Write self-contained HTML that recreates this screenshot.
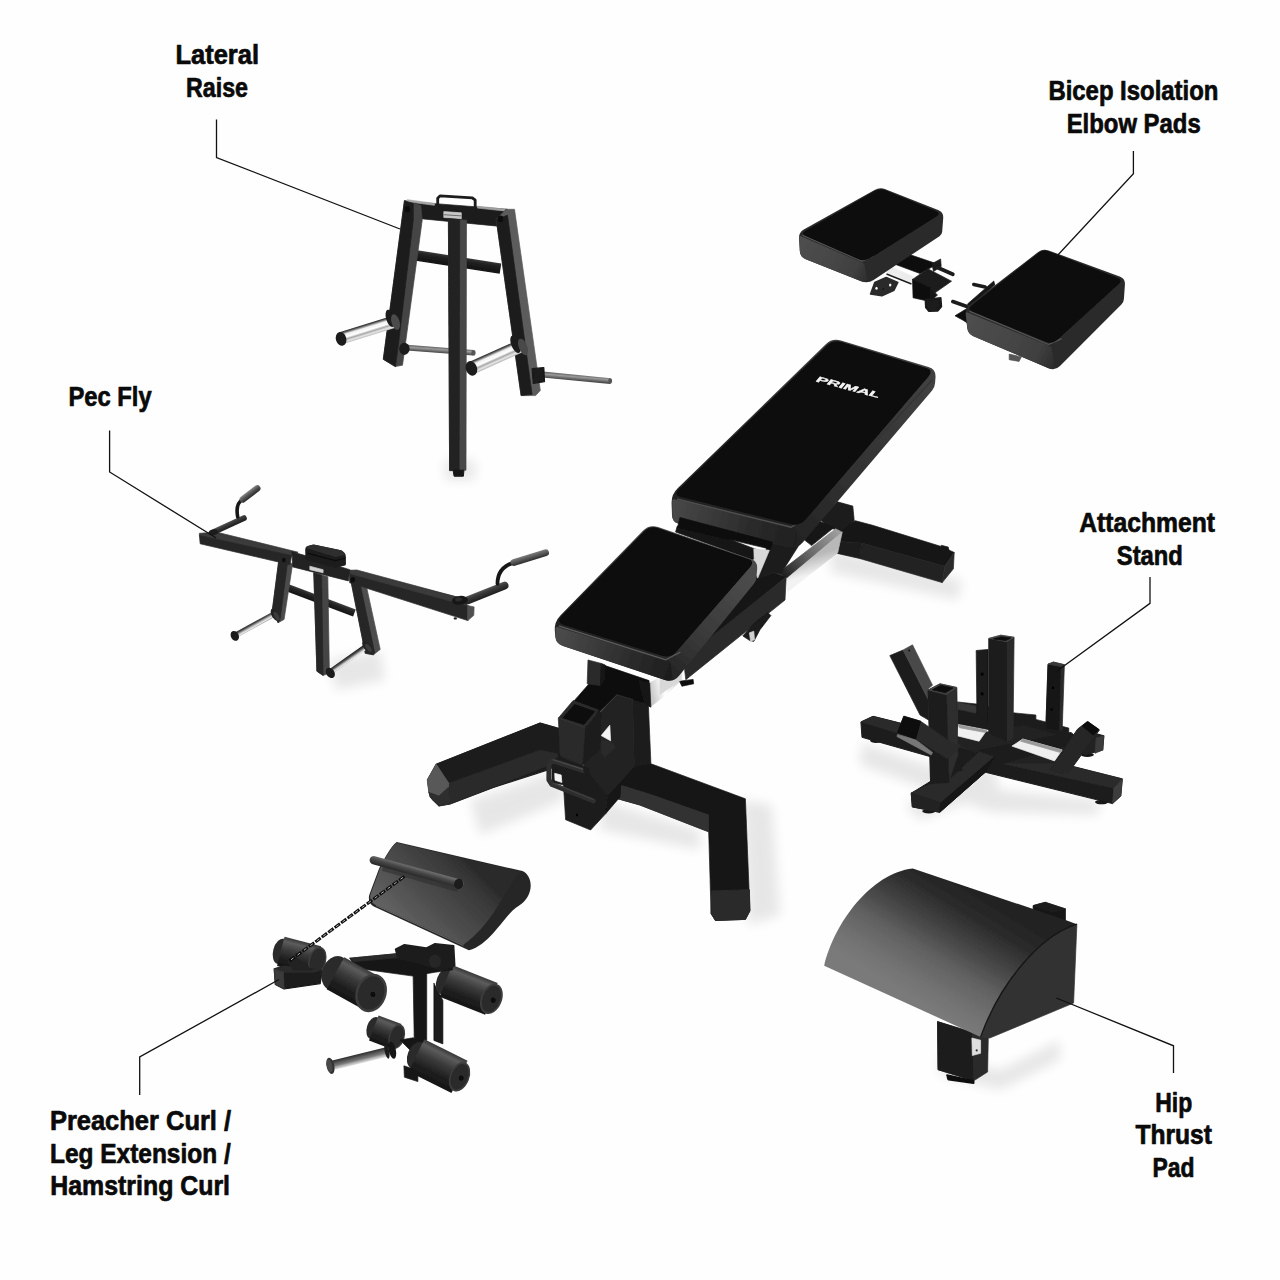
<!DOCTYPE html>
<html><head><meta charset="utf-8"><title>Primal bench attachments</title>
<style>
html,body{margin:0;padding:0;background:#fff;}
svg{display:block;}
.t{font-family:"Liberation Sans",sans-serif;font-weight:bold;font-size:27.5px;fill:#0a0a0a;stroke:#0a0a0a;stroke-width:0.7;stroke-linejoin:round;}
.ln{fill:none;stroke:#111;stroke-width:1.3;stroke-linejoin:miter;}
</style></head>
<body>
<svg width="1280" height="1280" viewBox="0 0 1280 1280">
<defs>
<filter id="shb" x="-30%" y="-30%" width="160%" height="160%"><feGaussianBlur stdDeviation="6"/></filter>
<filter id="soft" x="-2%" y="-2%" width="104%" height="104%"><feGaussianBlur stdDeviation="0.45"/></filter>
<linearGradient id="chr1" gradientUnits="userSpaceOnUse" x1="780.6" y1="574.8" x2="839.1" y2="530.2"><stop offset="0" stop-color="#1c1c1c"/><stop offset="0.5" stop-color="#6a6a6a"/><stop offset="1" stop-color="#a0a0a0"/></linearGradient>
<linearGradient id="chr2" gradientUnits="userSpaceOnUse" x1="811.6" y1="555.9" x2="816.7" y2="573.1"><stop offset="0" stop-color="#b8b8b8"/><stop offset="1" stop-color="#f2f2f2"/></linearGradient>
<linearGradient id="chr3" gradientUnits="userSpaceOnUse" x1="649.7" y1="686.9" x2="676.2" y2="680.6"><stop offset="0" stop-color="#c9c9c9"/><stop offset="0.5" stop-color="#ffffff"/><stop offset="1" stop-color="#dcdcdc"/></linearGradient>
<linearGradient id="bside" gradientUnits="userSpaceOnUse" x1="800.6" y1="540.9" x2="934.2" y2="386.2"><stop offset="0" stop-color="#242424"/><stop offset="0.35" stop-color="#303030"/><stop offset="1" stop-color="#404040"/></linearGradient>
<linearGradient id="bfront" gradientUnits="userSpaceOnUse" x1="672.2" y1="510.5" x2="797.1" y2="540.9"><stop offset="0" stop-color="#484848"/><stop offset="0.6" stop-color="#2c2c2c"/><stop offset="1" stop-color="#1f1f1f"/></linearGradient>
<linearGradient id="sside" gradientUnits="userSpaceOnUse" x1="675.3" y1="680.5" x2="756.2" y2="579.7"><stop offset="0" stop-color="#242424"/><stop offset="0.35" stop-color="#383838"/><stop offset="1" stop-color="#4c4c4c"/></linearGradient>
<linearGradient id="sfront" gradientUnits="userSpaceOnUse" x1="555.3" y1="633.6" x2="670.6" y2="673.4"><stop offset="0" stop-color="#4c4c4c"/><stop offset="0.6" stop-color="#2e2e2e"/><stop offset="1" stop-color="#1e1e1e"/></linearGradient>
<linearGradient id="lgb1" gradientUnits="userSpaceOnUse" x1="406.9" y1="344.8" x2="406.5" y2="350.4"><stop offset="0" stop-color="#5e5e5e"/><stop offset="0.4" stop-color="#9a9a9a"/><stop offset="1" stop-color="#4a4a4a"/></linearGradient>
<linearGradient id="lmb" gradientUnits="userSpaceOnUse" x1="411.0" y1="249.3" x2="409.4" y2="259.7"><stop offset="0" stop-color="#3a3a3a"/><stop offset="0.3" stop-color="#222"/><stop offset="1" stop-color="#111"/></linearGradient>
<linearGradient id="lch1" gradientUnits="userSpaceOnUse" x1="338.8" y1="332.5" x2="342.5" y2="344.4"><stop offset="0" stop-color="#1e1e1e"/><stop offset="0.12" stop-color="#6a6a6a"/><stop offset="0.28" stop-color="#f0f0f0"/><stop offset="0.52" stop-color="#ffffff"/><stop offset="0.68" stop-color="#a8a8a8"/><stop offset="0.84" stop-color="#e6e6e6"/><stop offset="1" stop-color="#b8b8b8"/></linearGradient>
<linearGradient id="lch2" gradientUnits="userSpaceOnUse" x1="468.5" y1="362.3" x2="473.8" y2="374.1"><stop offset="0" stop-color="#1e1e1e"/><stop offset="0.12" stop-color="#6a6a6a"/><stop offset="0.28" stop-color="#f0f0f0"/><stop offset="0.52" stop-color="#ffffff"/><stop offset="0.68" stop-color="#a8a8a8"/><stop offset="0.84" stop-color="#e6e6e6"/><stop offset="1" stop-color="#b8b8b8"/></linearGradient>
<linearGradient id="lgb2" gradientUnits="userSpaceOnUse" x1="542.9" y1="371.6" x2="542.4" y2="377.4"><stop offset="0" stop-color="#5e5e5e"/><stop offset="0.4" stop-color="#9a9a9a"/><stop offset="1" stop-color="#4a4a4a"/></linearGradient>
<linearGradient id="pcb" gradientUnits="userSpaceOnUse" x1="287.0" y1="583.4" x2="284.3" y2="590.4"><stop offset="0" stop-color="#3c3c3c"/><stop offset="0.35" stop-color="#242424"/><stop offset="1" stop-color="#141414"/></linearGradient>
<linearGradient id="pr1" gradientUnits="userSpaceOnUse" x1="233.5" y1="633.2" x2="236.2" y2="638.0"><stop offset="0" stop-color="#242424"/><stop offset="0.3" stop-color="#555"/><stop offset="0.6" stop-color="#bbb"/><stop offset="0.85" stop-color="#ececec"/><stop offset="1" stop-color="#aaa"/></linearGradient>
<linearGradient id="pr2" gradientUnits="userSpaceOnUse" x1="328.6" y1="669.8" x2="331.7" y2="674.3"><stop offset="0" stop-color="#242424"/><stop offset="0.3" stop-color="#555"/><stop offset="0.6" stop-color="#bbb"/><stop offset="0.85" stop-color="#ececec"/><stop offset="1" stop-color="#aaa"/></linearGradient>
<linearGradient id="ph1" gradientUnits="userSpaceOnUse" x1="212.2" y1="529.6" x2="214.7" y2="534.8"><stop offset="0" stop-color="#5a5a5a"/><stop offset="0.35" stop-color="#3a3a3a"/><stop offset="1" stop-color="#202020"/></linearGradient>
<linearGradient id="ph2" gradientUnits="userSpaceOnUse" x1="240.8" y1="496.8" x2="244.8" y2="502.0"><stop offset="0" stop-color="#8a8a8a"/><stop offset="0.4" stop-color="#5a5a5a"/><stop offset="1" stop-color="#2a2a2a"/></linearGradient>
<linearGradient id="ph3" gradientUnits="userSpaceOnUse" x1="466.3" y1="596.4" x2="469.3" y2="603.9"><stop offset="0" stop-color="#5a5a5a"/><stop offset="0.35" stop-color="#3a3a3a"/><stop offset="1" stop-color="#202020"/></linearGradient>
<linearGradient id="ph4" gradientUnits="userSpaceOnUse" x1="512.9" y1="559.2" x2="514.9" y2="565.8"><stop offset="0" stop-color="#7c7c7c"/><stop offset="0.45" stop-color="#585858"/><stop offset="1" stop-color="#2c2c2c"/></linearGradient>
<linearGradient id="bpf1" gradientUnits="userSpaceOnUse" x1="799.7" y1="244.4" x2="867.2" y2="278.1"><stop offset="0" stop-color="#4e4e4e"/><stop offset="0.8" stop-color="#404040"/><stop offset="1" stop-color="#2e2e2e"/></linearGradient>
<linearGradient id="bpf2" gradientUnits="userSpaceOnUse" x1="967.0" y1="317.5" x2="1054.2" y2="362.5"><stop offset="0" stop-color="#4e4e4e"/><stop offset="0.8" stop-color="#404040"/><stop offset="1" stop-color="#2e2e2e"/></linearGradient>
<linearGradient id="hipg" gradientUnits="userSpaceOnUse" x1="963.1" y1="881.6" x2="897.5" y2="988.8"><stop offset="0" stop-color="#222222"/><stop offset="0.2" stop-color="#2b2b2b"/><stop offset="0.42" stop-color="#454545"/><stop offset="0.64" stop-color="#626262"/><stop offset="0.85" stop-color="#727272"/><stop offset="1" stop-color="#7a7a7a"/></linearGradient>
<linearGradient id="rq1" gradientUnits="userSpaceOnUse" x1="452.2" y1="965.1" x2="439.7" y2="996.8"><stop offset="0" stop-color="#383838"/><stop offset="0.14" stop-color="#5c5c5c"/><stop offset="0.4" stop-color="#3a3a3a"/><stop offset="0.72" stop-color="#1f1f1f"/><stop offset="1" stop-color="#151515"/></linearGradient>
<linearGradient id="rq2" gradientUnits="userSpaceOnUse" x1="284.5" y1="936.9" x2="277.0" y2="965.9"><stop offset="0" stop-color="#383838"/><stop offset="0.14" stop-color="#5c5c5c"/><stop offset="0.4" stop-color="#3a3a3a"/><stop offset="0.72" stop-color="#1f1f1f"/><stop offset="1" stop-color="#151515"/></linearGradient>
<linearGradient id="rq3" gradientUnits="userSpaceOnUse" x1="344.3" y1="957.3" x2="326.6" y2="989.3"><stop offset="0" stop-color="#383838"/><stop offset="0.14" stop-color="#5c5c5c"/><stop offset="0.4" stop-color="#3a3a3a"/><stop offset="0.72" stop-color="#1f1f1f"/><stop offset="1" stop-color="#151515"/></linearGradient>
<linearGradient id="rq4" gradientUnits="userSpaceOnUse" x1="378.6" y1="1015.4" x2="368.9" y2="1040.6"><stop offset="0" stop-color="#383838"/><stop offset="0.14" stop-color="#5c5c5c"/><stop offset="0.4" stop-color="#3a3a3a"/><stop offset="0.72" stop-color="#1f1f1f"/><stop offset="1" stop-color="#151515"/></linearGradient>
<linearGradient id="rqrod" gradientUnits="userSpaceOnUse" x1="329.3" y1="1061.2" x2="331.6" y2="1070.4"><stop offset="0" stop-color="#2a2a2a"/><stop offset="0.35" stop-color="#5a5a5a"/><stop offset="0.6" stop-color="#7a7a7a"/><stop offset="0.8" stop-color="#b4b4b4"/><stop offset="1" stop-color="#dcdcdc"/></linearGradient>
<linearGradient id="rq5" gradientUnits="userSpaceOnUse" x1="424.4" y1="1039.2" x2="408.4" y2="1071.4"><stop offset="0" stop-color="#383838"/><stop offset="0.14" stop-color="#5c5c5c"/><stop offset="0.4" stop-color="#3a3a3a"/><stop offset="0.72" stop-color="#1f1f1f"/><stop offset="1" stop-color="#151515"/></linearGradient>
<linearGradient id="ppg" gradientUnits="userSpaceOnUse" x1="470.0" y1="862.8" x2="382.5" y2="952.5"><stop offset="0" stop-color="#2a2a2a"/><stop offset="0.12" stop-color="#383838"/><stop offset="0.45" stop-color="#4e4e4e"/><stop offset="0.8" stop-color="#666666"/><stop offset="1" stop-color="#5e5e5e"/></linearGradient>
<linearGradient id="rqgrip" gradientUnits="userSpaceOnUse" x1="374.9" y1="856.1" x2="372.6" y2="864.2"><stop offset="0" stop-color="#6c6c6c"/><stop offset="0.4" stop-color="#484848"/><stop offset="1" stop-color="#262626"/></linearGradient>
</defs>
<rect width="1280" height="1280" fill="#fefefe"/>
<g id="shadows" filter="url(#shb)" fill="#000" opacity="0.09">
<polygon points="832,548 962,580 958,600 830,572"/>
<polygon points="742,800 772,805 780,915 748,925"/>
<polygon points="470,800 560,770 565,800 480,835"/>
<polygon points="600,800 700,830 700,850 600,830"/>
<polygon points="862,742 1000,790 1100,800 1098,815 990,812 860,765"/>
<polygon points="905,805 990,760 1000,790 920,820"/>
<polygon points="940,1055 1000,1070 1060,1040 1060,1060 1000,1090 940,1075"/>
<polygon points="330,660 380,650 385,680 335,690"/>
<polygon points="445,460 475,460 475,480 445,480"/>
</g>
<g id="objects" filter="url(#soft)">
<g id="bench">
<polygon points="855.4,520.7 872.6,525.3 941.3,546.5 954.2,552.5 944.8,566.2 861.4,543.0 835.6,541.3 840.8,526.7" fill="#171717" stroke="#171717" stroke-width="0.7" stroke-linejoin="round" />
<polygon points="861.4,543.0 944.8,566.2 942.2,582.6 859.7,558.5" fill="#212121" stroke="#212121" stroke-width="0.7" stroke-linejoin="round" />
<polygon points="833.9,541.3 861.4,543.0 859.7,558.5 837.3,553.4" fill="#1b1b1b" stroke="#1b1b1b" stroke-width="0.7" stroke-linejoin="round" />
<polygon points="944.8,566.2 954.2,552.5 953.4,568.8 942.2,582.6" fill="#2b2b2b" stroke="#2b2b2b" stroke-width="0.7" stroke-linejoin="round" />
<polygon points="941.3,545.3 948.2,547.0 949.1,551.1 941.3,549.4" fill="#181818" stroke="#181818" stroke-width="0.7" stroke-linejoin="round" />
<polygon points="837.3,501.8 852.8,506.1 854.2,520.7 840.8,531.0 828.8,527.6 820.2,519.8" fill="#1b1b1b" stroke="#1b1b1b" stroke-width="0.7" stroke-linejoin="round" />
<polygon points="803.0,538.8 818.4,520.7 833.9,527.6 811.6,545.6" fill="#161616" stroke="#161616" stroke-width="0.7" stroke-linejoin="round" />
<polygon points="778.0,573.1 835.6,528.8 842.2,532.2 787.5,577.9" fill="url(#chr1)" stroke="url(#chr1)" stroke-width="0.7" stroke-linejoin="round" />
<polygon points="787.5,577.9 842.2,532.2 837.7,552.8 787.5,591.7" fill="url(#chr2)" stroke="url(#chr2)" stroke-width="0.7" stroke-linejoin="round" />
<polygon points="616.6,764.8 632.5,756.9 745.4,798.8 749.9,910.9 745.4,919.4 715.4,920.5 711.1,913.6 708.7,831.8 639.9,805.0 605.9,795.4" fill="#171717" stroke="#171717" stroke-width="0.7" stroke-linejoin="round" />
<polygon points="621.9,785.6 652.4,795.1 708.7,815.0 708.7,831.8 639.9,805.0 605.9,795.4" fill="#333333" stroke="#333333" stroke-width="0.7" stroke-linejoin="round" />
<polygon points="711.7,891.0 749.4,889.7 749.9,910.9 745.4,919.4 715.4,920.5 711.1,913.6" fill="#2a2a2a" stroke="#2a2a2a" stroke-width="1.0" stroke-linejoin="round" />
<polygon points="436.2,764.3 540.1,723.1 561.3,729.2 561.3,759.5 550.2,769.1 492.5,787.7 450.0,803.9 438.9,805.8 430.1,796.7 427.4,780.0" fill="#1c1c1c" stroke="#1c1c1c" stroke-width="1.2" stroke-linejoin="round" />
<polygon points="436.2,764.3 540.1,723.1 557.6,728.2 557.6,753.7 540.1,750.0 448.7,783.2" fill="#1c1c1c" stroke="#1c1c1c" stroke-width="0.7" stroke-linejoin="round" />
<polygon points="448.7,783.2 540.1,750.0 557.6,753.7 557.6,756.9 546.2,766.4 492.5,787.7 450.0,803.9" fill="#2a2a2a" stroke="#2a2a2a" stroke-width="0.7" stroke-linejoin="round" />
<polygon points="436.2,764.3 448.7,783.2 448.2,787.7 438.9,796.2 428.8,792.5 427.4,780.0" fill="#585858" stroke="#585858" stroke-width="1.0" stroke-linejoin="round" />
<polygon points="428.8,792.5 438.9,796.2 448.2,787.7 450.0,803.9 438.9,805.8 432.0,799.4" fill="#2e2e2e" stroke="#2e2e2e" stroke-width="1.0" stroke-linejoin="round" />
<polygon points="632.5,698.6 648.4,705.6 650.9,763.4 634.1,766.6" fill="#1c1c1c" stroke="#1c1c1c" stroke-width="0.7" stroke-linejoin="round" />
<polygon points="573.8,701.2 605.0,665.6 649.1,680.6 649.1,705.0 632.5,699.4 616.9,694.7 598.1,713.4" fill="#111111" stroke="#111111" stroke-width="0.7" stroke-linejoin="round" />
<polygon points="588.0,660.0 601.2,663.4 600.5,685.6 587.2,683.8" fill="#2a2a2a" stroke="#2a2a2a" stroke-width="0.7" stroke-linejoin="round" />
<polygon points="601.2,663.4 605.2,665.0 604.4,679.1 600.5,685.6" fill="#141414" stroke="#141414" stroke-width="0.7" stroke-linejoin="round" />
<polygon points="649.4,683.0 681.7,666.6 681.7,679.8 666.9,693.9 650.9,706.4" fill="url(#chr3)" stroke="url(#chr3)" stroke-width="0.7" stroke-linejoin="round" />
<polygon points="638.8,680.6 649.7,683.0 650.9,707.2 645.0,704.1" fill="#141414" stroke="#141414" stroke-width="0.7" stroke-linejoin="round" />
<polygon points="585.6,727.5 616.9,694.7 632.8,699.4 634.4,765.8 607.5,796.2 582.5,785.3" fill="#242424" stroke="#242424" stroke-width="0.7" stroke-linejoin="round" />
<polygon points="601.2,735.6 609.8,725.2 610.6,740.8" fill="#f4f4f4" stroke="#f4f4f4" stroke-width="0.7" stroke-linejoin="round" />
<polygon points="558.3,718.1 573.1,700.6 598.9,710.3 585.6,727.8" fill="#2c2c2c" stroke="#2c2c2c" stroke-width="0.7" stroke-linejoin="round" />
<polygon points="563.0,717.8 574.7,704.4 594.7,711.6 583.8,724.4" fill="#0b0b0b" stroke="#0b0b0b" stroke-width="0.7" stroke-linejoin="round" />
<polygon points="558.3,718.1 585.6,727.8 582.5,765.0 560.3,756.4" fill="#2b2b2b" stroke="#2b2b2b" stroke-width="0.7" stroke-linejoin="round" />
<polygon points="585.6,727.8 598.9,710.3 601.2,713.4 599.7,749.4 582.5,765.0" fill="#1b1b1b" stroke="#1b1b1b" stroke-width="0.7" stroke-linejoin="round" />
<polygon points="560.3,756.4 582.5,765.0 607.5,796.2 605.6,813.8 590.6,830.0 565.6,819.7 563.0,777.5" fill="#1c1c1c" stroke="#1c1c1c" stroke-width="0.7" stroke-linejoin="round" />
<polygon points="552.0,763.4 566.9,765.0 566.9,785.3 552.0,783.0" fill="#1b1b1b" stroke="#1b1b1b" stroke-width="0.7" stroke-linejoin="round" />
<polygon points="554.7,773.3 561.2,775.0 561.9,782.5 555.0,780.2" fill="#f4f4f4" stroke="#f4f4f4" stroke-width="0.7" stroke-linejoin="round" />
<polygon points="607.5,796.2 620.8,783.0 620.0,797.0 605.6,813.8" fill="#131313" stroke="#131313" stroke-width="0.7" stroke-linejoin="round" />
<ellipse cx="577.0" cy="815.0" rx="1.2" ry="1.2" fill="#050505" transform="rotate(0.0 577.0 815.0)" />
<polygon points="602.0,740.0 612.2,742.3 615.3,747.8 604.4,757.2 601.2,752.5" fill="#2a2a2a" stroke="#2a2a2a" stroke-width="0.7" stroke-linejoin="round" />
<polyline points="584.1,770.9 552.0,760.6 548.9,765.0 548.9,779.8 552.0,784.5 593.4,800.9" fill="none" stroke="#2f2f2f" stroke-width="5.0" stroke-linecap="round" stroke-linejoin="round" />
<polyline points="583.3,769.4 553.1,759.7" fill="none" stroke="#4a4a4a" stroke-width="1.2" stroke-linecap="round" stroke-linejoin="round" />
<polyline points="553.6,783.4 592.7,799.4" fill="none" stroke="#444" stroke-width="1.0" stroke-linecap="round" stroke-linejoin="round" />
<ellipse cx="586.4" cy="770.5" rx="2.8" ry="4.1" fill="#1a1a1a" transform="rotate(-20.0 586.4 770.5)" />
<polygon points="753.8,581.2 773.3,572.2 786.2,576.9 686.6,658.6 681.9,656.2" fill="#171717" stroke="#171717" stroke-width="0.7" stroke-linejoin="round" />
<polygon points="786.2,576.9 785.0,600.0 685.8,679.7 683.4,659.1" fill="#2a2a2a" stroke="#2a2a2a" stroke-width="0.7" stroke-linejoin="round" />
<polygon points="742.8,635.9 753.8,623.4 767.8,612.5 770.9,615.6 760.0,629.7 753.8,641.4 749.8,640.6" fill="#1a1a1a" stroke="#1a1a1a" stroke-width="0.7" stroke-linejoin="round" />
<polygon points="749.4,632.8 753.8,631.2 754.5,639.8 750.6,641.4" fill="#d0d0d0" stroke="#d0d0d0" stroke-width="0.7" stroke-linejoin="round" />
<polygon points="679.5,681.2 693.1,679.4 693.6,683.8 681.9,686.2" fill="#101010" stroke="#101010" stroke-width="0.7" stroke-linejoin="round" />
<polygon points="660.0,679.7 680.3,668.8 681.1,679.7 660.0,694.5" fill="#d8d8d8" stroke="#d8d8d8" stroke-width="0.7" stroke-linejoin="round" />
<polygon points="769.4,539.1 799.8,543.8 785.0,567.2 779.5,573.8 772.8,572.5 754.5,581.6 760.0,568.8" fill="#1b1b1b" stroke="#1b1b1b" stroke-width="0.7" stroke-linejoin="round" />
<polygon points="677.2,526.2 714.7,533.6 756.9,549.7 758.8,557.0 752.2,559.7 675.6,532.0" fill="#141414" stroke="#141414" stroke-width="0.7" stroke-linejoin="round" />
<polygon points="753.8,548.8 769.4,550.3 757.7,578.1 754.5,568.8" fill="#d9d9d9" stroke="#d9d9d9" stroke-width="0.7" stroke-linejoin="round" />
<path d="M825.8,344.2 Q832.3,338.0 840.9,340.6 L928.4,367.1 Q936.1,369.4 935.5,377.4 L935.0,383.4 Q934.7,387.4 932.1,390.5 L802.9,542.3 Q797.1,549.1 788.3,547.2 L679.0,523.7 Q672.2,522.2 672.0,515.2 L671.6,503.5 Q671.2,494.5 677.7,488.3 Z" fill="url(#bside)" />
<path d="M672.2,500.8 Q672.2,498.8 674.1,499.2 L795.2,528.7 Q797.1,529.2 797.1,531.2 L797.1,540.1 Q797.1,549.1 788.3,547.2 L679.0,523.7 Q672.2,522.2 672.2,515.2 Z" fill="url(#bfront)" />
<polyline points="677.6,499.2 791.2,527.3 805.3,517.5" fill="none" stroke="#505050" stroke-width="1.4" stroke-linecap="round" stroke-linejoin="round" />
<polyline points="805.3,517.5 931.9,380.4" fill="none" stroke="#343434" stroke-width="1.4" stroke-linecap="round" stroke-linejoin="round" />
<path d="M826.5,345.7 Q833.0,339.4 841.6,342.0 L926.1,368.0 Q933.8,370.3 928.5,376.4 L805.6,519.6 Q799.7,526.4 791.0,524.2 L680.9,496.9 Q673.1,495.0 678.9,489.4 Z" fill="#0a0a0a" />
<text transform="matrix(0.966 0.258 -0.62 0.74 815.0 381.2)" font-family="Liberation Sans, sans-serif" font-weight="bold" font-size="9.3" textLength="65" lengthAdjust="spacingAndGlyphs" fill="#f4f4f4" stroke="#f4f4f4" stroke-width="0.35">PRIMAL</text>
<polygon points="679.9,517.5 772.5,542.1 770.2,549.1 677.6,527.3" fill="#0e0e0e" stroke="#0e0e0e" stroke-width="0.7" stroke-linejoin="round" />
<path d="M643.2,530.6 Q649.5,524.1 658.0,527.1 L751.2,559.1 Q757.8,561.4 757.2,568.4 L756.5,576.9 Q756.2,580.9 753.7,584.0 L679.1,675.8 Q673.4,682.8 664.9,680.0 L562.4,645.7 Q555.8,643.4 555.3,636.5 L554.8,630.8 Q554.1,621.9 560.4,615.4 Z" fill="url(#sside)" />
<path d="M555.4,628.6 Q555.3,626.6 557.2,627.1 L668.7,661.1 Q670.6,661.7 670.9,663.7 L672.2,673.9 Q673.4,682.8 664.9,680.0 L562.4,645.7 Q555.8,643.4 555.6,636.4 Z" fill="url(#sfront)" />
<polyline points="559.3,626.1 665.9,659.8 680.0,652.3" fill="none" stroke="#5c5c5c" stroke-width="1.3" stroke-linecap="round" stroke-linejoin="round" />
<path d="M643.7,531.8 Q650.0,525.3 658.5,528.2 L748.4,559.1 Q755.0,561.4 750.4,566.7 L676.5,651.6 Q670.6,658.4 662.0,655.7 L563.4,624.7 Q555.8,622.3 561.4,616.6 Z" fill="#090909" />
</g>
<g id="lateral">
<line x1="406.7" y1="347.6" x2="473.5" y2="352.7" stroke="url(#lgb1)" stroke-width="5.6" stroke-linecap="butt"/>
<ellipse cx="473.5" cy="352.7" rx="2.1" ry="2.8" fill="#555" transform="rotate(0.0 473.5 352.7)" />
<polyline points="437.7,206.2 437.7,198.3 440.0,195.9 472.3,197.8 475.2,200.2 475.2,208.6" fill="none" stroke="#1c1c1c" stroke-width="2.8" stroke-linecap="round" stroke-linejoin="round" />
<polygon points="404.4,200.6 423.1,202.7 507.5,209.3 505.6,226.9 420.8,218.7 405.5,215.6" fill="#1d1d1d" stroke="#1d1d1d" stroke-width="0.7" stroke-linejoin="round" />
<polygon points="407.2,199.7 434.8,203.4 434.4,205.3 405.8,201.6" fill="#a8a8a8" stroke="#a8a8a8" stroke-width="0.7" stroke-linejoin="round" />
<polygon points="477.5,206.2 505.2,209.1 504.2,210.9 477.5,208.1" fill="#a0a0a0" stroke="#a0a0a0" stroke-width="0.7" stroke-linejoin="round" />
<polygon points="443.8,211.6 461.3,212.8 461.3,218.7 443.8,217.5" fill="#c8c8c8" stroke="#c8c8c8" stroke-width="0.7" stroke-linejoin="round" />
<polyline points="443.8,214.7 461.3,215.9" fill="none" stroke="#555" stroke-width="0.8" stroke-linecap="butt" stroke-linejoin="round" />
<line x1="410.2" y1="254.5" x2="500.5" y2="268.6" stroke="url(#lmb)" stroke-width="10.5" stroke-linecap="butt"/>
<polygon points="404.4,201.1 420.8,205.3 422.2,220.3 402.5,365.2 395.0,366.6 383.3,359.3" fill="#454545" stroke="#454545" stroke-width="0.7" stroke-linejoin="round" />
<polygon points="404.4,201.1 413.3,203.4 413.3,219.8 398.5,344.1 395.5,366.6 383.3,359.3" fill="#1f1f1f" stroke="#1f1f1f" stroke-width="0.7" stroke-linejoin="round" />
<polygon points="496.2,219.4 506.3,209.3 514.5,209.3 540.3,390.5 535.6,395.6 521.1,395.6" fill="#5c5c5c" stroke="#5c5c5c" stroke-width="0.7" stroke-linejoin="round" />
<polygon points="496.2,219.4 507.5,215.2 532.1,394.5 521.1,395.6" fill="#1e1e1e" stroke="#1e1e1e" stroke-width="0.7" stroke-linejoin="round" />
<ellipse cx="407.2" cy="209.3" rx="2.8" ry="3.3" fill="#0d0d0d" transform="rotate(0.0 407.2 209.3)" />
<ellipse cx="500.5" cy="218.7" rx="2.8" ry="3.3" fill="#0d0d0d" transform="rotate(0.0 500.5 218.7)" />
<polygon points="448.4,218.7 466.5,220.3 466.0,470.2 449.6,470.6" fill="#474747" stroke="#474747" stroke-width="0.7" stroke-linejoin="round" />
<polygon points="448.4,218.7 459.7,219.6 459.2,470.6 449.6,470.6" fill="#242424" stroke="#242424" stroke-width="0.7" stroke-linejoin="round" />
<polygon points="453.1,470.2 463.9,470.2 463.4,476.2 454.1,476.2" fill="#151515" stroke="#151515" stroke-width="1.0" stroke-linejoin="round" />
<line x1="340.6" y1="338.4" x2="394.5" y2="321.6" stroke="url(#lch1)" stroke-width="12.5" stroke-linecap="butt"/>
<ellipse cx="341.1" cy="338.9" rx="5.2" ry="7.0" fill="#1c1c1c" transform="rotate(-17.0 341.1 338.9)" />
<ellipse cx="390.3" cy="318.3" rx="4.2" ry="8.9" fill="#1a1a1a" transform="rotate(-17.0 390.3 318.3)" />
<ellipse cx="395.5" cy="322.0" rx="4.0" ry="8.0" fill="#4c4c4c" transform="rotate(-17.0 395.5 322.0)" />
<ellipse cx="404.4" cy="348.8" rx="5.2" ry="6.1" fill="#1a1a1a" transform="rotate(0.0 404.4 348.8)" />
<line x1="471.2" y1="368.2" x2="521.1" y2="345.9" stroke="url(#lch2)" stroke-width="13.0" stroke-linecap="butt"/>
<ellipse cx="471.4" cy="368.4" rx="5.6" ry="7.5" fill="#1a1a1a" transform="rotate(-22.0 471.4 368.4)" />
<ellipse cx="515.7" cy="344.1" rx="4.5" ry="9.4" fill="#1a1a1a" transform="rotate(-22.0 515.7 344.1)" />
<ellipse cx="523.0" cy="346.9" rx="4.2" ry="8.7" fill="#4a4a4a" transform="rotate(-22.0 523.0 346.9)" />
<line x1="542.7" y1="374.5" x2="610.2" y2="381.1" stroke="url(#lgb2)" stroke-width="5.8" stroke-linecap="butt"/>
<ellipse cx="610.2" cy="381.1" rx="1.9" ry="2.8" fill="#555" transform="rotate(0.0 610.2 381.1)" />
<polygon points="532.1,368.7 543.8,367.5 544.5,381.6 533.3,383.4" fill="#1a1a1a" stroke="#1a1a1a" stroke-width="1.2" stroke-linejoin="round" />
</g>
<g id="pecfly">
<line x1="285.6" y1="586.9" x2="354.4" y2="613.1" stroke="url(#pcb)" stroke-width="7.5" stroke-linecap="butt"/>
<polygon points="278.6,561.9 292.7,563.4 284.1,619.4 278.1,622.8 272.3,610.6" fill="#4c4c4c" stroke="#4c4c4c" stroke-width="0.7" stroke-linejoin="round" />
<polygon points="278.6,561.9 287.5,562.8 280.2,618.9 278.1,622.8 272.3,610.6" fill="#272727" stroke="#272727" stroke-width="0.7" stroke-linejoin="round" />
<polygon points="351.2,582.2 366.9,588.4 380.2,649.4 373.4,654.8 365.3,653.3" fill="#4e4e4e" stroke="#4e4e4e" stroke-width="0.7" stroke-linejoin="round" />
<polygon points="351.2,582.2 360.6,586.1 374.7,652.8 373.4,654.8 365.3,653.3" fill="#272727" stroke="#272727" stroke-width="0.7" stroke-linejoin="round" />
<polygon points="313.8,572.8 327.8,576.7 329.4,672.8 323.1,675.6 316.9,671.2" fill="#454545" stroke="#454545" stroke-width="0.7" stroke-linejoin="round" />
<polygon points="313.8,572.8 321.6,575.2 323.1,675.3 316.9,671.2" fill="#262626" stroke="#262626" stroke-width="0.7" stroke-linejoin="round" />
<line x1="234.8" y1="635.6" x2="274.7" y2="613.8" stroke="url(#pr1)" stroke-width="5.5" stroke-linecap="butt"/>
<ellipse cx="234.8" cy="635.9" rx="3.9" ry="5.2" fill="#1c1c1c" transform="rotate(-28.0 234.8 635.9)" />
<ellipse cx="275.0" cy="614.7" rx="3.4" ry="6.6" fill="#222" transform="rotate(-28.0 275.0 614.7)" />
<ellipse cx="276.6" cy="616.2" rx="2.2" ry="4.7" fill="#3a3a3a" transform="rotate(-28.0 276.6 616.2)" />
<line x1="330.2" y1="672.0" x2="366.1" y2="646.6" stroke="url(#pr2)" stroke-width="5.5" stroke-linecap="butt"/>
<ellipse cx="330.3" cy="672.8" rx="4.1" ry="5.6" fill="#1c1c1c" transform="rotate(-35.0 330.3 672.8)" />
<ellipse cx="366.9" cy="646.6" rx="3.4" ry="6.6" fill="#222" transform="rotate(-35.0 366.9 646.6)" />
<ellipse cx="368.4" cy="647.8" rx="2.2" ry="4.7" fill="#3a3a3a" transform="rotate(-35.0 368.4 647.8)" />
<polygon points="199.4,533.3 216.9,532.2 298.1,552.2 291.6,555.9 199.4,535.9" fill="#3a3a3a" stroke="#3a3a3a" stroke-width="0.7" stroke-linejoin="round" />
<polygon points="199.4,535.6 291.6,555.6 290.0,564.7 200.2,543.8" fill="#272727" stroke="#272727" stroke-width="0.7" stroke-linejoin="round" />
<polygon points="349.1,570.3 460.0,597.8 467.8,605.6 467.8,620.6 349.7,582.8" fill="#282828" stroke="#282828" stroke-width="0.7" stroke-linejoin="round" />
<polygon points="349.1,570.3 356.9,570.0 460.0,597.8 467.8,605.6 453.8,601.9 349.1,573.4" fill="#3a3a3a" stroke="#3a3a3a" stroke-width="0.7" stroke-linejoin="round" />
<polygon points="467.8,605.6 474.1,606.9 473.8,615.3 467.8,620.6" fill="#505050" stroke="#505050" stroke-width="0.7" stroke-linejoin="round" />
<ellipse cx="455.3" cy="618.4" rx="1.6" ry="1.2" fill="#222" transform="rotate(0.0 455.3 618.4)" />
<polygon points="291.9,551.7 305.2,555.6 349.7,569.7 348.4,580.9 292.7,566.9" fill="#222222" stroke="#222222" stroke-width="0.7" stroke-linejoin="round" />
<path d="M305.2,549.4 Q305.2,546.9 307.5,546.1 L311.1,545.0 Q313.0,544.4 314.9,544.8 L339.9,549.9 Q341.9,550.3 343.3,551.7 L344.2,552.6 Q345.9,554.4 345.9,556.9 L345.9,564.3 Q345.9,565.3 345.0,565.5 L336.3,567.6 Q335.3,567.8 334.3,567.5 L306.4,560.0 Q305.5,559.7 305.4,558.7 Z" fill="#1c1c1c" />
<polygon points="306.9,547.5 313.4,545.3 341.6,551.2 344.4,554.4 335.6,556.2" fill="#2e2e2e" stroke="#2e2e2e" stroke-width="1.6" stroke-linejoin="round" />
<polyline points="307.5,553.1 335.0,560.6 345.0,558.4" fill="none" stroke="#0c0c0c" stroke-width="1.2" stroke-linecap="butt" stroke-linejoin="round" />
<polygon points="309.8,566.2 323.1,569.7 323.1,572.8 309.8,569.7" fill="#d0d0d0" stroke="#d0d0d0" stroke-width="0.7" stroke-linejoin="round" />
<ellipse cx="283.8" cy="560.0" rx="1.9" ry="2.2" fill="#0e0e0e" transform="rotate(0.0 283.8 560.0)" />
<ellipse cx="352.8" cy="579.8" rx="2.5" ry="2.8" fill="#0e0e0e" transform="rotate(0.0 352.8 579.8)" />
<line x1="213.4" y1="532.2" x2="243.9" y2="518.1" stroke="url(#ph1)" stroke-width="5.8" stroke-linecap="round"/>
<ellipse cx="213.4" cy="532.2" rx="4.7" ry="2.8" fill="#1a1a1a" transform="rotate(-10.0 213.4 532.2)" />
<path d="M237.7,516.9 Q235.3,503.6 242.3,499.7" fill="none" stroke="#161616" stroke-width="3.6" stroke-linecap="round"/>
<line x1="242.8" y1="499.4" x2="257.2" y2="488.4" stroke="url(#ph2)" stroke-width="6.5" stroke-linecap="round"/>
<line x1="467.8" y1="600.2" x2="504.5" y2="585.6" stroke="url(#ph3)" stroke-width="8.0" stroke-linecap="round"/>
<ellipse cx="460.0" cy="600.3" rx="8.1" ry="4.4" fill="#191919" transform="rotate(-5.0 460.0 600.3)" />
<ellipse cx="458.4" cy="599.4" rx="3.4" ry="1.9" fill="#2d2d2d" transform="rotate(-5.0 458.4 599.4)" />
<path d="M497.5,583.8 Q497.5,568.1 512.3,563.1" fill="none" stroke="#141414" stroke-width="3.8" stroke-linecap="round"/>
<line x1="513.9" y1="562.5" x2="545.6" y2="552.8" stroke="url(#ph4)" stroke-width="6.8" stroke-linecap="round"/>
</g>
<g id="bicep">
<polygon points="870.6,294.0 874.8,282.5 886.2,277.5 897.8,282.5 894.0,290.2 881.9,295.8" fill="#2a2a2a" stroke="#2a2a2a" stroke-width="1.6" stroke-linejoin="round" />
<ellipse cx="876.5" cy="288.2" rx="1.2" ry="1.5" fill="#f4f4f4" transform="rotate(0.0 876.5 288.2)" />
<ellipse cx="890.2" cy="285.0" rx="1.2" ry="1.5" fill="#f4f4f4" transform="rotate(0.0 890.2 285.0)" />
<ellipse cx="883.2" cy="289.0" rx="0.8" ry="0.8" fill="#0a0a0a" transform="rotate(0.0 883.2 289.0)" />
<polygon points="887.2,269.8 891.5,267.2 913.1,276.5 912.5,283.1 887.5,273.1" fill="#ececec" stroke="#ececec" stroke-width="0.7" stroke-linejoin="round" />
<polyline points="886.5,274.0 911.5,284.0" fill="none" stroke="#1a1a1a" stroke-width="1.4" stroke-linecap="butt" stroke-linejoin="round" />
<polygon points="891.2,262.8 909.4,254.5 937.5,264.0 920.0,273.5" fill="#0e0e0e" stroke="#0e0e0e" stroke-width="0.7" stroke-linejoin="round" />
<polygon points="931.9,263.8 940.6,259.0 941.2,266.5 933.5,271.5" fill="#1a1a1a" stroke="#1a1a1a" stroke-width="0.7" stroke-linejoin="round" />
<polyline points="937.5,267.5 952.8,274.2" fill="none" stroke="#1b1b1b" stroke-width="3.8" stroke-linecap="round" stroke-linejoin="round" />
<polygon points="912.5,279.4 927.8,268.8 951.5,281.2 935.0,292.8 930.0,288.8" fill="#1c1c1c" stroke="#1c1c1c" stroke-width="0.7" stroke-linejoin="round" />
<polygon points="912.5,279.4 930.0,287.8 930.0,301.5 913.1,297.8" fill="#101010" stroke="#101010" stroke-width="0.7" stroke-linejoin="round" />
<polygon points="930.0,287.8 935.0,292.8 937.5,295.0 930.0,301.5" fill="#181818" stroke="#181818" stroke-width="0.7" stroke-linejoin="round" />
<polygon points="925.6,300.0 940.6,298.1 941.2,306.5 937.5,310.8 928.8,311.0 926.0,307.5" fill="#1a1a1a" stroke="#1a1a1a" stroke-width="2.0" stroke-linejoin="round" />
<path d="M874.6,189.9 Q879.8,187.0 885.4,189.2 L938.1,210.1 Q943.7,212.3 943.2,218.3 L942.2,231.5 Q942.0,234.5 939.5,236.2 L873.6,279.9 Q867.8,283.8 861.2,281.2 L805.8,259.2 Q800.2,257.0 799.8,251.0 L799.0,238.5 Q798.6,232.6 803.8,229.6 Z" fill="#2a2a2a" />
<path d="M799.2,237.4 Q799.1,235.4 801.0,236.2 L862.5,262.7 Q864.4,263.5 864.7,265.5 L866.6,276.8 Q867.8,283.8 861.2,281.2 L805.8,259.2 Q800.2,257.0 799.9,251.0 Z" fill="url(#bpf1)" />
<polyline points="803.1,235.4 862.1,261.2 872.8,256.2" fill="none" stroke="#555" stroke-width="1.3" stroke-linecap="round" stroke-linejoin="round" />
<path d="M874.9,191.1 Q880.1,188.1 885.7,190.4 L935.9,211.1 Q941.4,213.4 936.4,216.6 L870.3,258.1 Q864.4,261.8 858.0,259.0 L805.7,236.1 Q800.2,233.7 805.5,230.7 Z" fill="#0a0a0a" />
<polygon points="967.5,304.0 993.8,281.0 994.8,285.0 969.0,307.2" fill="#161616" stroke="#161616" stroke-width="0.7" stroke-linejoin="round" />
<polygon points="955.0,315.8 967.0,308.5 967.0,322.8 963.1,320.2" fill="#0c0c0c" stroke="#0c0c0c" stroke-width="0.7" stroke-linejoin="round" />
<polyline points="973.8,284.5 985.2,287.0" fill="none" stroke="#1b1b1b" stroke-width="3.6" stroke-linecap="round" stroke-linejoin="round" />
<polyline points="952.8,301.5 966.9,306.5" fill="none" stroke="#1b1b1b" stroke-width="3.6" stroke-linecap="round" stroke-linejoin="round" />
<polygon points="1009.2,354.1 1021.3,356.9 1019.1,361.4 1009.2,359.7" fill="#555" stroke="#555" stroke-width="0.7" stroke-linejoin="round" />
<path d="M1038.2,252.0 Q1043.0,248.3 1048.6,250.4 L1119.7,276.6 Q1125.4,278.7 1124.9,284.7 L1123.9,299.0 Q1123.7,302.0 1121.6,304.2 L1060.0,366.0 Q1055.1,370.9 1048.6,368.2 L973.4,336.2 Q967.9,333.8 967.2,327.8 L965.7,314.5 Q965.1,308.5 969.8,304.8 Z" fill="#2a2a2a" />
<path d="M965.8,313.9 Q965.6,311.9 967.5,312.6 L1049.6,346.0 Q1051.4,346.8 1051.7,348.7 L1054.0,364.0 Q1055.1,370.9 1048.6,368.2 L973.4,336.2 Q967.9,333.8 967.3,327.8 Z" fill="url(#bpf2)" />
<polyline points="970.1,311.3 1048.6,344.5 1061.2,338.9" fill="none" stroke="#555" stroke-width="1.3" stroke-linecap="round" stroke-linejoin="round" />
<path d="M1038.5,253.1 Q1043.2,249.4 1048.9,251.6 L1117.5,277.7 Q1123.1,279.8 1118.7,283.9 L1057.4,339.8 Q1052.2,344.5 1045.8,341.8 L972.3,311.4 Q966.8,309.1 971.5,305.4 Z" fill="#0a0a0a" />
</g>
<g id="stand">
<ellipse cx="876.2" cy="740.8" rx="6.1" ry="2.2" fill="#141414" transform="rotate(0.0 876.2 740.8)" />
<ellipse cx="1087.3" cy="754.8" rx="6.6" ry="2.2" fill="#141414" transform="rotate(0.0 1087.3 754.8)" />
<ellipse cx="928.8" cy="811.2" rx="6.6" ry="2.2" fill="#141414" transform="rotate(0.0 928.8 811.2)" />
<ellipse cx="1101.6" cy="802.1" rx="6.6" ry="2.2" fill="#141414" transform="rotate(0.0 1101.6 802.1)" />
<polygon points="1087.3,731.4 1103.8,735.8 1102.7,750.0 1086.2,754.4 1068.8,750.0" fill="#232323" stroke="#232323" stroke-width="1.2" stroke-linejoin="round" />
<polygon points="1096.1,738.0 1103.8,735.8 1102.7,750.0 1095.0,753.3" fill="#3a3a3a" stroke="#3a3a3a" stroke-width="0.7" stroke-linejoin="round" />
<polygon points="860.9,722.0 873.0,716.3 1122.3,778.9 1120.8,795.9 1112.5,803.6 985.6,772.3 862.0,737.3" fill="#1b1b1b" stroke="#1b1b1b" stroke-width="1.0" stroke-linejoin="round" />
<polygon points="860.9,722.0 873.0,716.3 1122.3,778.9 1113.8,788.3 990.0,760.9" fill="#2a2a2a" stroke="#2a2a2a" stroke-width="0.7" stroke-linejoin="round" />
<polygon points="1113.8,788.3 1122.3,778.9 1120.8,795.9 1112.5,803.6" fill="#3c3c3c" stroke="#3c3c3c" stroke-width="0.7" stroke-linejoin="round" />
<polygon points="957.2,701.9 976.9,704.1 1013.0,712.8 1035.9,715.0 1035.9,719.4 1068.8,728.1 1068.8,741.2 1003.1,732.5 957.2,723.8" fill="#1f1f1f" stroke="#1f1f1f" stroke-width="0.7" stroke-linejoin="round" />
<polygon points="955.0,723.8 990.0,732.5 1022.8,725.9 1070.9,739.1 1060.0,763.1 985.6,763.1 955.0,741.2" fill="#242424" stroke="#242424" stroke-width="0.7" stroke-linejoin="round" />
<polygon points="911.2,793.3 981.2,750.0 1070.9,732.5 1081.9,741.2 1003.1,763.1 985.6,771.9 939.7,812.3 912.3,806.9" fill="#1b1b1b" stroke="#1b1b1b" stroke-width="1.0" stroke-linejoin="round" />
<polygon points="911.2,792.9 932.0,783.2 948.4,780.6 979.1,751.8 994.4,757.0 940.8,802.9" fill="#2a2a2a" stroke="#2a2a2a" stroke-width="0.7" stroke-linejoin="round" />
<polygon points="911.2,792.9 940.8,802.9 939.7,812.3 912.3,806.9" fill="#232323" stroke="#232323" stroke-width="0.7" stroke-linejoin="round" />
<polygon points="940.8,802.9 994.4,757.0 985.6,771.9 939.7,812.3" fill="#161616" stroke="#161616" stroke-width="0.7" stroke-linejoin="round" />
<polygon points="958.3,724.8 986.7,730.3 979.1,741.2 957.2,735.8" fill="#f0f0f0" stroke="#f0f0f0" stroke-width="0.7" stroke-linejoin="round" />
<polygon points="1011.9,746.1 1022.8,739.1 1062.2,750.0 1054.5,760.9" fill="#efefef" stroke="#efefef" stroke-width="0.7" stroke-linejoin="round" />
<polygon points="958.3,724.8 986.7,730.3 985.2,732.5 959.4,727.7" fill="#9a9a9a" stroke="#9a9a9a" stroke-width="0.7" stroke-linejoin="round" />
<polygon points="1022.8,739.1 1062.2,750.0 1060.4,752.6 1020.6,741.2" fill="#9a9a9a" stroke="#9a9a9a" stroke-width="0.7" stroke-linejoin="round" />
<polygon points="947.5,757.5 958.8,747.5 975.0,752.5 960.0,767.5" fill="#1d1d1d" stroke="#1d1d1d" stroke-width="0.7" stroke-linejoin="round" />
<polygon points="949.5,758.8 961.6,757.7 961.6,770.8 949.5,771.9" fill="#1d1d1d" stroke="#1d1d1d" stroke-width="0.7" stroke-linejoin="round" />
<polygon points="957.5,702.5 976.2,706.2 976.2,713.1 957.5,709.0" fill="#383838" stroke="#383838" stroke-width="0.7" stroke-linejoin="round" />
<polygon points="976.2,650.5 988.2,649.4 988.2,723.8 976.9,713.9" fill="#1a1a1a" stroke="#1a1a1a" stroke-width="0.7" stroke-linejoin="round" />
<ellipse cx="982.1" cy="673.9" rx="1.5" ry="1.5" fill="#050505" transform="rotate(0.0 982.1 673.9)" />
<ellipse cx="982.1" cy="693.8" rx="1.5" ry="1.5" fill="#050505" transform="rotate(0.0 982.1 693.8)" />
<polygon points="988.9,638.4 1000.9,635.2 1014.1,637.3 1013.0,738.0 1006.4,741.2 988.9,733.6" fill="#2c2c2c" stroke="#2c2c2c" stroke-width="0.7" stroke-linejoin="round" />
<polygon points="988.9,638.4 1006.4,641.7 1006.4,741.2 988.9,733.6" fill="#1b1b1b" stroke="#1b1b1b" stroke-width="0.7" stroke-linejoin="round" />
<polygon points="988.9,638.4 1000.9,635.2 1014.1,637.3 1006.4,641.7" fill="#4a4a4a" stroke="#4a4a4a" stroke-width="0.7" stroke-linejoin="round" />
<polygon points="993.3,638.9 1001.4,636.7 1010.8,638.0 1005.8,640.6" fill="#0a0a0a" stroke="#0a0a0a" stroke-width="0.7" stroke-linejoin="round" />
<polygon points="1048.0,664.2 1053.4,662.1 1064.4,664.7 1062.2,729.9 1045.8,728.6" fill="#2a2a2a" stroke="#2a2a2a" stroke-width="0.7" stroke-linejoin="round" />
<polygon points="1048.0,664.2 1060.4,666.4 1058.9,729.9 1045.8,728.6" fill="#161616" stroke="#161616" stroke-width="0.7" stroke-linejoin="round" />
<polygon points="1048.0,664.2 1053.4,662.1 1064.4,664.7 1060.4,666.4" fill="#3a3a3a" stroke="#3a3a3a" stroke-width="0.7" stroke-linejoin="round" />
<ellipse cx="1053.0" cy="687.7" rx="1.3" ry="1.3" fill="#050505" transform="rotate(0.0 1053.0 687.7)" />
<ellipse cx="1051.7" cy="709.5" rx="1.3" ry="1.3" fill="#050505" transform="rotate(0.0 1051.7 709.5)" />
<polygon points="1077.5,729.2 1087.3,721.6 1099.4,729.9 1068.8,772.3 1060.0,773.0 1050.2,769.7" fill="#252525" stroke="#252525" stroke-width="1.0" stroke-linejoin="round" />
<polygon points="1082.3,725.9 1088.0,721.6 1098.9,729.4 1093.2,735.1" fill="#0a0a0a" stroke="#0a0a0a" stroke-width="0.7" stroke-linejoin="round" />
<polygon points="889.8,655.6 903.1,650.0 928.5,700.0 928.5,720.0 920.0,715.0" fill="#1d1d1d" stroke="#1d1d1d" stroke-width="0.7" stroke-linejoin="round" />
<polygon points="903.1,650.0 912.5,644.8 932.5,685.2 928.5,688.5 928.5,700.0" fill="#4a4a4a" stroke="#4a4a4a" stroke-width="0.7" stroke-linejoin="round" />
<ellipse cx="909.2" cy="650.4" rx="1.0" ry="1.0" fill="#111" transform="rotate(0.0 909.2 650.4)" />
<polygon points="928.1,690.0 940.0,683.8 956.9,687.5 957.8,755.0 948.8,782.5 930.6,783.8" fill="#2d2d2d" stroke="#2d2d2d" stroke-width="0.7" stroke-linejoin="round" />
<polygon points="928.1,690.0 946.2,694.5 948.8,782.5 930.6,783.8" fill="#1e1e1e" stroke="#1e1e1e" stroke-width="0.7" stroke-linejoin="round" />
<polygon points="928.1,690.0 940.0,683.8 956.9,687.5 946.2,694.5" fill="#444" stroke="#444" stroke-width="0.7" stroke-linejoin="round" />
<polygon points="932.5,689.8 940.6,685.2 953.1,688.0 945.6,692.8" fill="#0a0a0a" stroke="#0a0a0a" stroke-width="0.7" stroke-linejoin="round" />
<polygon points="897.5,734.4 915.6,739.4 932.5,752.5 931.2,755.0 896.9,736.5" fill="#777" stroke="#777" stroke-width="0.7" stroke-linejoin="round" />
<polygon points="903.8,716.2 920.6,721.2 958.8,747.5 947.5,758.8 915.6,739.0 897.5,732.5" fill="#2a2a2a" stroke="#2a2a2a" stroke-width="0.7" stroke-linejoin="round" />
<polygon points="897.5,732.5 903.8,716.2 920.6,721.2 915.6,739.0" fill="#0b0b0b" stroke="#0b0b0b" stroke-width="0.7" stroke-linejoin="round" />
</g>
<g id="hip">
<polygon points="937.5,1021.6 988.3,1036.9 987.6,1071.9 974.1,1080.6 938.0,1069.7" fill="#2a2a2a" stroke="#2a2a2a" stroke-width="0.7" stroke-linejoin="round" />
<polygon points="937.5,1021.6 971.4,1032.5 973.0,1080.6 938.0,1069.7" fill="#1b1b1b" stroke="#1b1b1b" stroke-width="0.7" stroke-linejoin="round" />
<polygon points="971.9,1038.0 980.6,1040.2 980.6,1053.3 972.3,1055.5" fill="#dedede" stroke="#dedede" stroke-width="0.7" stroke-linejoin="round" />
<ellipse cx="976.7" cy="1050.4" rx="1.1" ry="1.1" fill="#333" transform="rotate(0.0 976.7 1050.4)" />
<path d="M946.3,1075.2 Q946.1,1074.1 947.2,1074.3 L973.3,1079.9 Q974.5,1080.2 974.5,1081.4 L974.5,1082.9 Q974.5,1084.1 973.3,1084.0 L948.6,1080.4 Q947.4,1080.2 947.1,1079.0 Z" fill="#101010" />
<polygon points="1033.1,905.6 1045.2,902.3 1065.5,908.9 1065.5,922.0 1033.1,912.2" fill="#141414" stroke="#141414" stroke-width="0.7" stroke-linejoin="round" />
<polygon points="1033.1,905.6 1045.2,902.3 1065.5,908.9 1052.8,912.2" fill="#1f1f1f" stroke="#1f1f1f" stroke-width="0.7" stroke-linejoin="round" />
<path d="M1076.9,924.2 C1039.7,936.2 1000.3,982.2 980.6,1036.9 L989.8,1038.0 L1073.6,1003.0 Z" fill="#323232" stroke="#323232" stroke-width="0.7"/>
<path d="M824.2,965.8 C834.1,923.1 871.2,872.8 912.8,868.4 L1064.8,919.8 L1076.9,924.2 C1039.7,936.2 1000.3,982.2 980.6,1036.9 Z" fill="url(#hipg)" />
<path d="M1076.9,924.2 C1039.7,936.2 1000.3,982.2 980.6,1036.9" fill="none" stroke="#141414" stroke-width="1.3"/>
</g>
<g id="preacher">
<polygon points="413.1,972.2 426.7,972.2 426.7,1040.0 423.0,1043.9 414.2,1038.2" fill="#151515" stroke="#151515" stroke-width="0.7" stroke-linejoin="round" />
<polygon points="433.9,983.1 442.9,1000.6 442.9,1043.9 433.9,1040.4" fill="#1a1a1a" stroke="#1a1a1a" stroke-width="0.7" stroke-linejoin="round" />
<ellipse cx="445.9" cy="980.9" rx="9.2" ry="14.2" fill="#2c2c2c" transform="rotate(22.0 445.9 980.9)" />
<line x1="445.9" y1="980.9" x2="491.4" y2="998.9" stroke="url(#rq1)" stroke-width="34.0" stroke-linecap="butt"/>
<ellipse cx="491.4" cy="998.9" rx="10.5" ry="15.8" fill="#3c3c3c" transform="rotate(22.0 491.4 998.9)" />
<ellipse cx="491.4" cy="998.9" rx="8.8" ry="13.7" fill="#2c2c2c" transform="rotate(22.0 491.4 998.9)" />
<ellipse cx="493.2" cy="1000.2" rx="2.4" ry="2.6" fill="#070707" transform="rotate(0.0 493.2 1000.2)" />
<ellipse cx="280.8" cy="951.4" rx="7.7" ry="13.0" fill="#2c2c2c" transform="rotate(15.0 280.8 951.4)" />
<line x1="280.8" y1="951.4" x2="317.3" y2="960.8" stroke="url(#rq2)" stroke-width="30.0" stroke-linecap="butt"/>
<ellipse cx="317.3" cy="960.8" rx="8.8" ry="14.4" fill="#3c3c3c" transform="rotate(15.0 317.3 960.8)" />
<ellipse cx="317.3" cy="960.8" rx="7.4" ry="12.6" fill="#2c2c2c" transform="rotate(15.0 317.3 960.8)" />
<polygon points="274.2,968.9 284.1,966.1 322.3,970.0 320.2,983.6 284.1,989.0 275.3,984.4" fill="#1a1a1a" stroke="#1a1a1a" stroke-width="1.2" stroke-linejoin="round" />
<polygon points="274.2,968.9 284.1,966.1 322.3,970.0 312.5,972.6 283.6,972.2" fill="#2c2c2c" stroke="#2c2c2c" stroke-width="0.7" stroke-linejoin="round" />
<polygon points="274.2,968.9 283.6,972.2 284.1,989.0 275.3,984.4" fill="#3a3a3a" stroke="#3a3a3a" stroke-width="0.7" stroke-linejoin="round" />
<polygon points="287.3,961.2 296.1,958.0 312.5,970.0 292.8,970.0" fill="#242424" stroke="#242424" stroke-width="0.7" stroke-linejoin="round" />
<polygon points="349.7,958.2 395.6,953.8 435.0,949.2 452.5,952.5 452.5,970.0 435.0,972.2 413.1,976.1 356.2,968.2" fill="#181818" stroke="#181818" stroke-width="0.7" stroke-linejoin="round" />
<polygon points="349.7,958.2 395.6,953.8 435.0,949.2 435.0,952.9 395.6,957.8 354.1,961.7" fill="#2a2a2a" stroke="#2a2a2a" stroke-width="0.7" stroke-linejoin="round" />
<polygon points="395.6,949.2 404.4,944.8 426.2,948.1 435.0,943.8 453.6,945.9 454.7,965.6 441.6,970.0 413.1,961.2 397.8,958.0" fill="#1d1d1d" stroke="#1d1d1d" stroke-width="1.6" stroke-linejoin="round" />
<ellipse cx="435.0" cy="961.2" rx="6.1" ry="6.6" fill="#262626" transform="rotate(0.0 435.0 961.2)" />
<ellipse cx="335.5" cy="973.3" rx="13.5" ry="17.7" fill="#2c2c2c" transform="rotate(20.0 335.5 973.3)" />
<line x1="335.5" y1="973.3" x2="371.1" y2="993.0" stroke="url(#rq3)" stroke-width="36.5" stroke-linecap="butt"/>
<ellipse cx="371.1" cy="993.0" rx="15.3" ry="19.7" fill="#3c3c3c" transform="rotate(20.0 371.1 993.0)" />
<ellipse cx="371.1" cy="993.0" rx="12.9" ry="17.1" fill="#2c2c2c" transform="rotate(20.0 371.1 993.0)" />
<ellipse cx="372.9" cy="994.3" rx="2.4" ry="2.6" fill="#070707" transform="rotate(0.0 372.9 994.3)" />
<ellipse cx="373.8" cy="1028.0" rx="6.9" ry="11.4" fill="#2c2c2c" transform="rotate(18.0 373.8 1028.0)" />
<line x1="373.8" y1="1028.0" x2="396.7" y2="1036.7" stroke="url(#rq4)" stroke-width="27.0" stroke-linecap="butt"/>
<ellipse cx="396.7" cy="1036.7" rx="7.9" ry="12.7" fill="#3c3c3c" transform="rotate(18.0 396.7 1036.7)" />
<ellipse cx="396.7" cy="1036.7" rx="6.6" ry="11.0" fill="#2c2c2c" transform="rotate(18.0 396.7 1036.7)" />
<line x1="330.4" y1="1065.8" x2="391.2" y2="1050.9" stroke="url(#rqrod)" stroke-width="9.5" stroke-linecap="butt"/>
<ellipse cx="330.4" cy="1065.8" rx="3.9" ry="8.3" fill="#303030" transform="rotate(-12.0 330.4 1065.8)" />
<ellipse cx="329.6" cy="1065.8" rx="2.6" ry="6.6" fill="#4a4a4a" transform="rotate(-12.0 329.6 1065.8)" />
<ellipse cx="392.3" cy="1050.1" rx="3.5" ry="8.8" fill="#161616" transform="rotate(-12.0 392.3 1050.1)" />
<ellipse cx="386.9" cy="1051.4" rx="2.2" ry="7.4" fill="#1e1e1e" transform="rotate(-12.0 386.9 1051.4)" />
<polygon points="400.0,1040.0 413.1,1037.8 426.2,1043.3 426.2,1048.8 410.9,1050.9" fill="#171717" stroke="#171717" stroke-width="0.7" stroke-linejoin="round" />
<polygon points="403.9,1065.8 417.9,1070.6 417.9,1081.6 404.4,1077.2" fill="#181818" stroke="#181818" stroke-width="0.7" stroke-linejoin="round" />
<ellipse cx="416.4" cy="1055.3" rx="8.7" ry="13.8" fill="#2c2c2c" transform="rotate(22.0 416.4 1055.3)" />
<line x1="416.4" y1="1055.3" x2="459.5" y2="1076.8" stroke="url(#rq5)" stroke-width="36.0" stroke-linecap="butt"/>
<ellipse cx="459.5" cy="1076.8" rx="9.8" ry="15.3" fill="#3c3c3c" transform="rotate(22.0 459.5 1076.8)" />
<ellipse cx="459.5" cy="1076.8" rx="8.3" ry="13.3" fill="#2c2c2c" transform="rotate(22.0 459.5 1076.8)" />
<ellipse cx="461.2" cy="1078.1" rx="2.4" ry="2.6" fill="#070707" transform="rotate(0.0 461.2 1078.1)" />
<path d="M379.2,868.3 Q391.2,845.3 396.7,842.0 L522.5,871.1 C533.4,875.9 534.5,895.6 519.2,905.5 C505.0,913.1 491.9,943.8 468.9,950.3 L373.8,906.6 Q367.2,902.2 369.4,894.5 Z" fill="#272727" />
<path d="M379.9,868.9 Q391.2,845.8 396.7,842.7 L520.3,871.6 C507.2,884.7 495.2,921.9 463.4,944.8 L374.8,904.4 Q368.9,901.1 370.5,894.5 Z" fill="url(#ppg)" />
<polyline points="375.9,905.5 463.4,945.5" fill="none" stroke="#6a6a6a" stroke-width="1.0" stroke-linecap="butt" stroke-linejoin="round" />
<polyline points="382.5,868.3 458.0,889.5" fill="none" stroke="#2e2e2e" stroke-width="5.0" stroke-linecap="butt" stroke-linejoin="round" opacity="0.6"/>
<line x1="373.8" y1="860.2" x2="459.5" y2="883.6" stroke="url(#rqgrip)" stroke-width="8.4" stroke-linecap="round"/>
<ellipse cx="458.6" cy="883.8" rx="4.4" ry="5.2" fill="#1a1a1a" transform="rotate(15.0 458.6 883.8)" />
<polyline points="404.4,876.4 288.4,961.7" fill="none" stroke="#0c0c0c" stroke-width="3.0" stroke-linecap="butt" stroke-linejoin="round" stroke-dasharray="6.5 1.5"/>
<polyline points="404.4,876.4 288.4,961.7" fill="none" stroke="#e8e8e8" stroke-width="0.8" stroke-linecap="butt" stroke-linejoin="round" stroke-dasharray="3.2 4.8"  stroke-dashoffset="-1.6"/>
</g>
</g>
<g id="lines">
<polyline class="ln" points="216.5,119.5 216.5,157.5 400,229"/>
<polyline class="ln" points="1133.4,151 1133.4,173.8 1057,256"/>
<polyline class="ln" points="109.6,430.5 109.6,472 216.2,538"/>
<polyline class="ln" points="1150,577 1150,603.4 1057,671"/>
<polyline class="ln" points="139.7,1095 139.7,1057 279,979.5"/>
<polyline class="ln" points="1173.5,1073 1173.5,1045.8 1056.3,998"/>
</g>
<g id="labels">
<text class="t" x="175.5" y="64" textLength="83.5" lengthAdjust="spacingAndGlyphs">Lateral</text>
<text class="t" x="186" y="97" textLength="62" lengthAdjust="spacingAndGlyphs">Raise</text>
<text class="t" x="1048.4" y="100.4" textLength="170" lengthAdjust="spacingAndGlyphs">Bicep Isolation</text>
<text class="t" x="1066.7" y="133.2" textLength="134" lengthAdjust="spacingAndGlyphs">Elbow Pads</text>
<text class="t" x="68.4" y="406" textLength="83.3" lengthAdjust="spacingAndGlyphs">Pec Fly</text>
<text class="t" x="1079.2" y="532.4" textLength="135.8" lengthAdjust="spacingAndGlyphs">Attachment</text>
<text class="t" x="1116.8" y="565.4" textLength="66" lengthAdjust="spacingAndGlyphs">Stand</text>
<text class="t" x="49.9" y="1129.6" textLength="181.2" lengthAdjust="spacingAndGlyphs">Preacher Curl /</text>
<text class="t" x="50" y="1162.5" textLength="180.7" lengthAdjust="spacingAndGlyphs">Leg Extension /</text>
<text class="t" x="50.3" y="1195.2" textLength="179.7" lengthAdjust="spacingAndGlyphs">Hamstring Curl</text>
<text class="t" x="1155.2" y="1111.5" textLength="37" lengthAdjust="spacingAndGlyphs">Hip</text>
<text class="t" x="1135.4" y="1144.1" textLength="76.5" lengthAdjust="spacingAndGlyphs">Thrust</text>
<text class="t" x="1152.6" y="1177.3" textLength="42" lengthAdjust="spacingAndGlyphs">Pad</text>
</g>

</svg>
</body></html>
